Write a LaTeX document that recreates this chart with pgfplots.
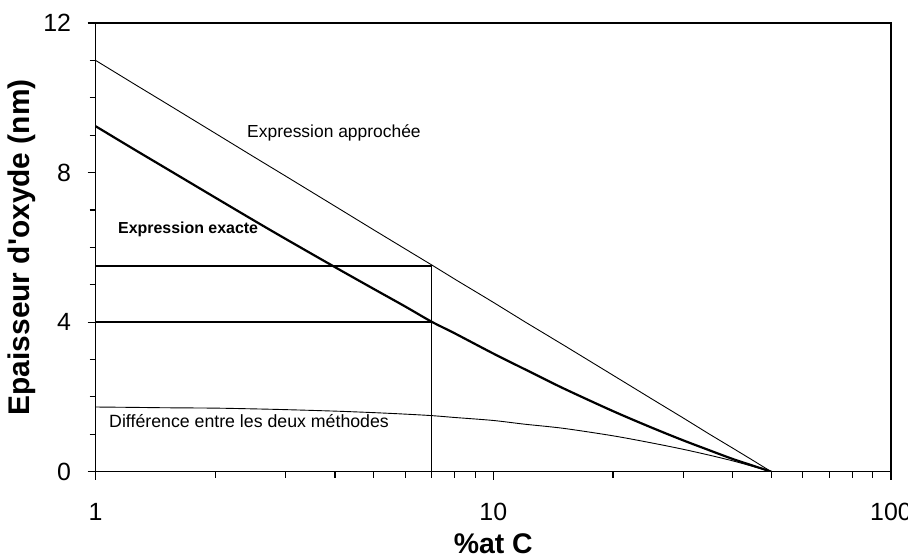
\documentclass[border=0pt]{standalone}
\usepackage{fontspec}
\setmainfont{Liberation Sans}
\usepackage{pgfplots}
\pgfplotsset{compat=1.18}
\begin{document}
\begin{tikzpicture}[x=1bp,y=1bp]
\begin{axis}[
  at={(0,0)}, anchor=south west,
  scale only axis, width=795.4bp, height=448.7bp,
  xmode=log, xmin=1, xmax=100, ymin=0, ymax=12,
  xtick={1,10,100}, xticklabels={1,10,100},
  minor xtick={2,3,4,5,6,7,8,9,20,30,40,50,60,70,80,90},
  ytick={0,4,8,12}, yticklabels={0,4,8,12},
  minor ytick={1,2,3,5,6,7,9,10,11},
  tick pos=left, tick align=outside,
  major tick length=8bp, minor tick length=6bp,
  axis line style={line width=1.3bp},
  every tick/.style={black, line width=1.1bp},
  tick label style={font=\fontsize{25}{25}\selectfont},
  xticklabel style={yshift=-20bp},
  yticklabel style={xshift=-13bp},
  xlabel={\%at C}, ylabel={Epaisseur d\textquotesingle oxyde (nm)},
  xlabel style={font=\bfseries\fontsize{28.5}{28.5}\selectfont, at={(axis description cs:0.5,-0.16)},anchor=center},
  ylabel style={font=\bfseries\fontsize{30}{30}\selectfont, at={(axis description cs:-0.0925,0.5)},anchor=center},
]
% Expression approchée
\addplot[black, line width=0.9bp] coordinates {
(1,11.00) (1.25,10.37) (1.5,9.86) (2,9.05) (2.5,8.42) (3,7.91) (4,7.10) (5,6.47)
(6,5.96) (7,5.53) (8,5.15) (10,4.53) (12,4.01) (15,3.39) (20,2.58) (25,1.95)
(30,1.44) (35,1.00) (40,0.63) (45,0.30) (50,0)};
% Expression exacte
\addplot[black, line width=2.2bp, smooth] coordinates {
(1,9.24) (1.25,8.62) (1.5,8.12) (2,7.33) (2.5,6.72) (3,6.23) (4,5.47) (5,4.89)
(6,4.42) (7,4.01) (8,3.70) (10,3.16) (12,2.74) (15,2.23) (20,1.62) (25,1.18)
(30,0.84) (35,0.57) (40,0.34) (45,0.16) (50,0)};
% Différence
\addplot[black, line width=0.9bp, smooth] coordinates {
(1,1.73) (1.25,1.72) (1.5,1.71) (2,1.70) (2.5,1.68) (3,1.66) (4,1.62) (5,1.58)
(6,1.54) (7,1.50) (8,1.45) (10,1.37) (12,1.27) (15,1.16) (20,0.96) (25,0.77)
(30,0.60) (35,0.44) (40,0.29) (45,0.14) (50,0)};
% guide lines
\addplot[black, line width=1.6bp] coordinates {(1,5.5) (7,5.5) (7,0)};
\addplot[black, line width=1.6bp] coordinates {(1,4) (7,4)};
\node[anchor=west, inner sep=0pt, font=\fontsize{17.5}{17.5}\selectfont] at (axis cs:2.403,9.06) {Expression approchée};
\node[anchor=west, inner sep=0pt, font=\bfseries\fontsize{16}{16}\selectfont] at (axis cs:1.138,6.48) {Expression exacte};
\node[anchor=west, inner sep=0pt, font=\fontsize{17.8}{17.8}\selectfont] at (axis cs:1.081,1.356) {Différence entre les deux méthodes};
\end{axis}
\pgfresetboundingbox
\path[use as bounding box] (-95.6bp,-84.3bp) rectangle (812.4bp,471.7bp);
\end{tikzpicture}
\end{document}
